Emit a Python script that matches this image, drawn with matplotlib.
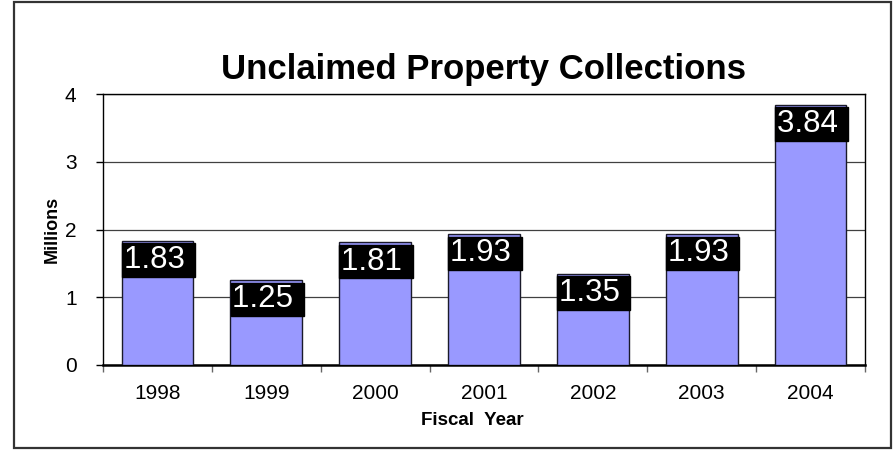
import numpy as np
import matplotlib.pyplot as plt
from matplotlib.patches import Rectangle
from matplotlib.ticker import FixedLocator

plt.rcParams['font.family'] = ['Liberation Sans', 'DejaVu Sans']

years = ['1998', '1999', '2000', '2001', '2002', '2003', '2004']
collections = [1.83, 1.25, 1.81, 1.93, 1.35, 1.93, 3.84]  # millions

fig = plt.figure(figsize=(8.95, 4.5), dpi=100)
ax = fig.add_axes([103 / 895, 1 - 365 / 450, (865 - 103) / 895, (365 - 94) / 450])

# outer frame around the whole chart
fig.patches.append(Rectangle((14 / 895, 2 / 450), 877 / 895, 446 / 450,
                             transform=fig.transFigure, fill=False,
                             edgecolor='#333333', linewidth=1.6))

x = np.arange(len(years))
bar_w = 0.66
ax.bar(x, collections, width=bar_w, color='#9999FF', edgecolor='#1a1a2a',
       linewidth=1.0, zorder=3)

# value labels: black boxes hanging from the top-left of each bar
for xi, v in zip(x, collections):
    ax.annotate(f'{v:.2f} ', xy=(xi - bar_w / 2, v), xytext=(1.5, -3),
                textcoords='offset points', ha='left', va='top',
                fontsize=22.5, color='white', zorder=5,
                bbox=dict(boxstyle='square,pad=0.06', facecolor='black',
                          edgecolor='black'))

ax.set_xlim(-0.5, len(years) - 0.5)
ax.set_ylim(0, 4)
ax.set_yticks([0, 1, 2, 3, 4])
ax.yaxis.grid(True, color='#404040', linewidth=0.9)
ax.set_axisbelow(True)

ax.set_xticks(x)
ax.set_xticklabels(years)
ax.xaxis.set_minor_locator(FixedLocator(np.arange(-0.5, len(years), 1.0)))
ax.tick_params(axis='x', which='major', length=0, pad=14, labelsize=15)
ax.tick_params(axis='x', which='minor', length=5, width=1, color='#666666')
ax.tick_params(axis='y', which='major', length=5, width=1, pad=14, labelsize=15)

for s in ax.spines.values():
    s.set_linewidth(1.0)
    s.set_color('black')
ax.spines['bottom'].set_linewidth(1.8)

ax.set_title('Unclaimed Property Collections', fontsize=25, fontweight='bold', pad=11)
ax.set_ylabel('Millions', fontsize=13, fontweight='bold', labelpad=3)
ax.set_xlabel('Fiscal  Year', fontsize=13.5, fontweight='bold')
ax.xaxis.set_label_coords(0.485, -0.205, transform=ax.transAxes)
ax.xaxis.label.set_va('center')

fig.savefig('out.png', dpi=100)
